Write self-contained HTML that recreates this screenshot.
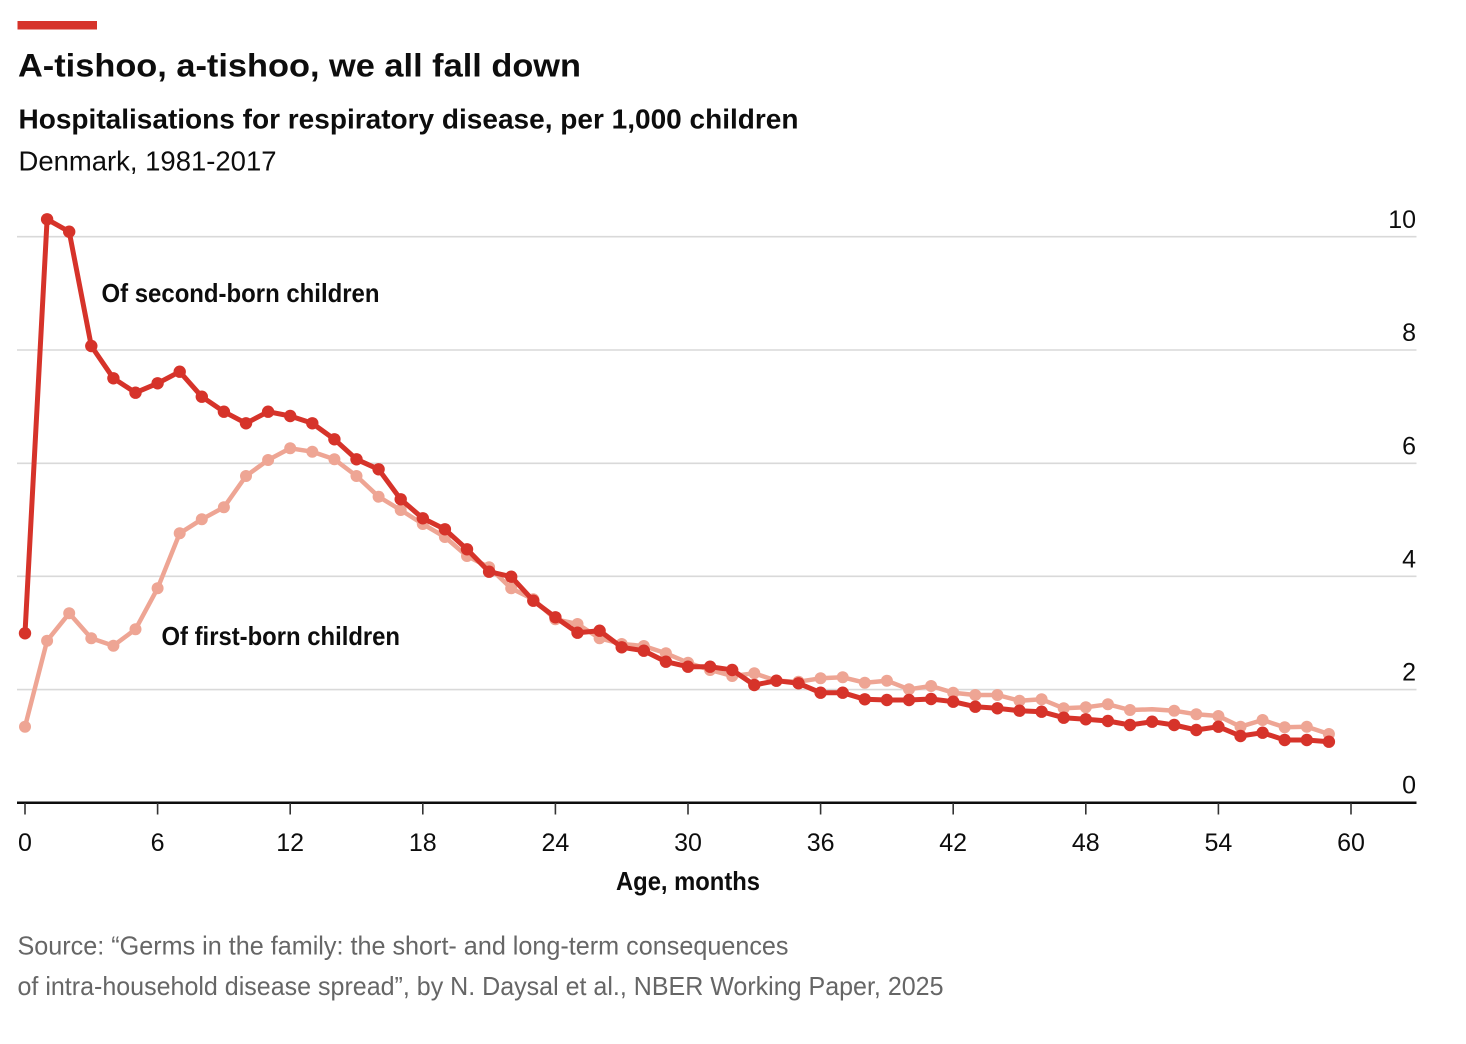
<!DOCTYPE html>
<html>
<head>
<meta charset="utf-8">
<style>
  html, body { margin: 0; padding: 0; background: #ffffff; }
  svg { display: block; }
  text { font-family: "Liberation Sans", "DejaVu Sans", sans-serif; }
</style>
</head>
<body>
<svg width="1466" height="1044" viewBox="0 0 1466 1044" xmlns="http://www.w3.org/2000/svg">
  <rect x="0" y="0" width="1466" height="1044" fill="#ffffff"/>
  <!-- red bar -->
  <rect x="17.5" y="21" width="79.5" height="8.5" fill="#d6332a"/>
  <!-- titles -->
  <text x="18" y="76.5" font-size="32" font-weight="bold" fill="#0d0d0d" textLength="563" lengthAdjust="spacingAndGlyphs">A-tishoo, a-tishoo, we all fall down</text>
  <text x="18.5" y="128.5" font-size="27.5" font-weight="bold" fill="#0d0d0d" textLength="780" lengthAdjust="spacingAndGlyphs">Hospitalisations for respiratory disease, per 1,000 children</text>
  <text x="18.5" y="170.5" font-size="27.5" fill="#0d0d0d" textLength="258" lengthAdjust="spacingAndGlyphs">Denmark, 1981-2017</text>

  <!-- gridlines -->
  <g stroke="#d9d9d9" stroke-width="1.6">
    <line x1="17" y1="236.7" x2="1416.5" y2="236.7"/>
    <line x1="17" y1="350" x2="1416.5" y2="350"/>
    <line x1="17" y1="463.3" x2="1416.5" y2="463.3"/>
    <line x1="17" y1="576.3" x2="1416.5" y2="576.3"/>
    <line x1="17" y1="689.6" x2="1416.5" y2="689.6"/>
  </g>
  <!-- y labels -->
  <g font-size="25" fill="#0d0d0d" text-anchor="end">
    <text x="1416" y="228">10</text>
    <text x="1416" y="341">8</text>
    <text x="1416" y="454.5">6</text>
    <text x="1416" y="567.5">4</text>
    <text x="1416" y="680.5">2</text>
    <text x="1416" y="793.5">0</text>
  </g>

  <!-- axis -->
  <line x1="17" y1="802.8" x2="1416.5" y2="802.8" stroke="#0d0d0d" stroke-width="2.5"/>
  <g stroke="#333" stroke-width="1.6">
    <line x1="25" y1="803" x2="25" y2="814.5"/>
    <line x1="157.6" y1="803" x2="157.6" y2="814.5"/>
    <line x1="290.2" y1="803" x2="290.2" y2="814.5"/>
    <line x1="422.8" y1="803" x2="422.8" y2="814.5"/>
    <line x1="555.4" y1="803" x2="555.4" y2="814.5"/>
    <line x1="688" y1="803" x2="688" y2="814.5"/>
    <line x1="820.6" y1="803" x2="820.6" y2="814.5"/>
    <line x1="953.2" y1="803" x2="953.2" y2="814.5"/>
    <line x1="1085.8" y1="803" x2="1085.8" y2="814.5"/>
    <line x1="1218.4" y1="803" x2="1218.4" y2="814.5"/>
    <line x1="1351" y1="803" x2="1351" y2="814.5"/>
  </g>
  <g font-size="25" fill="#0d0d0d" text-anchor="middle">
    <text x="25" y="851">0</text>
    <text x="157.6" y="851">6</text>
    <text x="290.2" y="851">12</text>
    <text x="422.8" y="851">18</text>
    <text x="555.4" y="851">24</text>
    <text x="688" y="851">30</text>
    <text x="820.6" y="851">36</text>
    <text x="953.2" y="851">42</text>
    <text x="1085.8" y="851">48</text>
    <text x="1218.4" y="851">54</text>
    <text x="1351" y="851">60</text>
  </g>
  <text x="616" y="890" font-size="26" font-weight="bold" fill="#0d0d0d" textLength="144" lengthAdjust="spacingAndGlyphs">Age, months</text>

  <!-- first-born (light) -->
  <polyline fill="none" stroke="#eea594" stroke-width="4.5" stroke-linejoin="round" stroke-linecap="round"
    points="25,726.7 47.1,640.7 69.2,613.3 91.3,638.3 113.4,645.7 135.5,629.3 157.6,588.3 179.7,533.3 201.8,519.3 223.9,507.3 246,476 268.1,460 290.2,448.3 312.3,451.7 334.4,459.3 356.5,476 378.6,496.7 400.7,510 422.8,524 444.9,537 467,556 489.1,567.3 511.2,588.3 533.3,599.3 555.4,619.3 577.5,624 599.6,638.3 621.7,644 643.8,646 665.9,653.3 688,662.7 710.1,670 732.2,676 754.3,673.3 776.4,680.7 798.5,681.7 820.6,678.3 842.7,677.3 864.8,682.7 886.9,680.7 909,689.3 931.1,686 953.2,692.7 975.3,695 997.4,695 1019.5,700.7 1041.6,699.3 1063.7,708.3 1085.8,707.3 1107.9,704.3 1130,710 1152.1,709.3 1174.2,710.7 1196.3,714.3 1218.4,716 1240.5,726.7 1262.6,720 1284.7,727.3 1306.8,726.7 1328.9,734"/>
  <g fill="#eea594">
    <circle cx="25" cy="726.7" r="6"/><circle cx="47.1" cy="640.7" r="6"/><circle cx="69.2" cy="613.3" r="6"/><circle cx="91.3" cy="638.3" r="6"/><circle cx="113.4" cy="645.7" r="6"/><circle cx="135.5" cy="629.3" r="6"/><circle cx="157.6" cy="588.3" r="6"/><circle cx="179.7" cy="533.3" r="6"/><circle cx="201.8" cy="519.3" r="6"/><circle cx="223.9" cy="507.3" r="6"/><circle cx="246" cy="476" r="6"/><circle cx="268.1" cy="460" r="6"/><circle cx="290.2" cy="448.3" r="6"/><circle cx="312.3" cy="451.7" r="6"/><circle cx="334.4" cy="459.3" r="6"/><circle cx="356.5" cy="476" r="6"/><circle cx="378.6" cy="496.7" r="6"/><circle cx="400.7" cy="510" r="6"/><circle cx="422.8" cy="524" r="6"/><circle cx="444.9" cy="537" r="6"/><circle cx="467" cy="556" r="6"/><circle cx="489.1" cy="567.3" r="6"/><circle cx="511.2" cy="588.3" r="6"/><circle cx="533.3" cy="599.3" r="6"/><circle cx="555.4" cy="619.3" r="6"/><circle cx="577.5" cy="624" r="6"/><circle cx="599.6" cy="638.3" r="6"/><circle cx="621.7" cy="644" r="6"/><circle cx="643.8" cy="646" r="6"/><circle cx="665.9" cy="653.3" r="6"/><circle cx="688" cy="662.7" r="6"/><circle cx="710.1" cy="670" r="6"/><circle cx="732.2" cy="676" r="6"/><circle cx="754.3" cy="673.3" r="6"/><circle cx="776.4" cy="680.7" r="6"/><circle cx="798.5" cy="681.7" r="6"/><circle cx="820.6" cy="678.3" r="6"/><circle cx="842.7" cy="677.3" r="6"/><circle cx="864.8" cy="682.7" r="6"/><circle cx="886.9" cy="680.7" r="6"/><circle cx="909" cy="689.3" r="6"/><circle cx="931.1" cy="686" r="6"/><circle cx="953.2" cy="692.7" r="6"/><circle cx="975.3" cy="695" r="6"/><circle cx="997.4" cy="695" r="6"/><circle cx="1019.5" cy="700.7" r="6"/><circle cx="1041.6" cy="699.3" r="6"/><circle cx="1063.7" cy="708.3" r="6"/><circle cx="1085.8" cy="707.3" r="6"/><circle cx="1107.9" cy="704.3" r="6"/><circle cx="1130" cy="710" r="6"/><circle cx="1174.2" cy="710.7" r="6"/><circle cx="1196.3" cy="714.3" r="6"/><circle cx="1218.4" cy="716" r="6"/><circle cx="1240.5" cy="726.7" r="6"/><circle cx="1262.6" cy="720" r="6"/><circle cx="1284.7" cy="727.3" r="6"/><circle cx="1306.8" cy="726.7" r="6"/><circle cx="1328.9" cy="734" r="6"/>
  </g>

  <!-- second-born (dark) -->
  <polyline fill="none" stroke="#d6332a" stroke-width="5" stroke-linejoin="round" stroke-linecap="round"
    points="25,633.3 47.1,219.3 69.2,231.7 91.3,346 113.4,378.3 135.5,392.7 157.6,383.3 179.7,371.7 201.8,396.7 223.9,411.7 246,423.3 268.1,411.7 290.2,416 312.3,423.3 334.4,439.3 356.5,459.3 378.6,469.3 400.7,499.3 422.8,518.3 444.9,529.3 467,549.3 489.1,571.7 511.2,576.7 533.3,600.7 555.4,617.3 577.5,632.7 599.6,630.7 621.7,647.3 643.8,650.7 665.9,661.7 688,666.7 710.1,666.7 732.2,670 754.3,685 776.4,680.7 798.5,683.3 820.6,692.7 842.7,692.7 864.8,699.3 886.9,700 909,700 931.1,699 953.2,701.7 975.3,706.7 997.4,708.3 1019.5,710.7 1041.6,711.7 1063.7,717.7 1085.8,719.3 1107.9,721 1130,725 1152.1,721.7 1174.2,725 1196.3,730 1218.4,726.7 1240.5,736 1262.6,732.7 1284.7,740 1306.8,740 1328.9,741.7"/>
  <g fill="#d6332a">
    <circle cx="25" cy="633.3" r="6.2"/><circle cx="47.1" cy="219.3" r="6.2"/><circle cx="69.2" cy="231.7" r="6.2"/><circle cx="91.3" cy="346" r="6.2"/><circle cx="113.4" cy="378.3" r="6.2"/><circle cx="135.5" cy="392.7" r="6.2"/><circle cx="157.6" cy="383.3" r="6.2"/><circle cx="179.7" cy="371.7" r="6.2"/><circle cx="201.8" cy="396.7" r="6.2"/><circle cx="223.9" cy="411.7" r="6.2"/><circle cx="246" cy="423.3" r="6.2"/><circle cx="268.1" cy="411.7" r="6.2"/><circle cx="290.2" cy="416" r="6.2"/><circle cx="312.3" cy="423.3" r="6.2"/><circle cx="334.4" cy="439.3" r="6.2"/><circle cx="356.5" cy="459.3" r="6.2"/><circle cx="378.6" cy="469.3" r="6.2"/><circle cx="400.7" cy="499.3" r="6.2"/><circle cx="422.8" cy="518.3" r="6.2"/><circle cx="444.9" cy="529.3" r="6.2"/><circle cx="467" cy="549.3" r="6.2"/><circle cx="489.1" cy="571.7" r="6.2"/><circle cx="511.2" cy="576.7" r="6.2"/><circle cx="533.3" cy="600.7" r="6.2"/><circle cx="555.4" cy="617.3" r="6.2"/><circle cx="577.5" cy="632.7" r="6.2"/><circle cx="599.6" cy="630.7" r="6.2"/><circle cx="621.7" cy="647.3" r="6.2"/><circle cx="643.8" cy="650.7" r="6.2"/><circle cx="665.9" cy="661.7" r="6.2"/><circle cx="688" cy="666.7" r="6.2"/><circle cx="710.1" cy="666.7" r="6.2"/><circle cx="732.2" cy="670" r="6.2"/><circle cx="754.3" cy="685" r="6.2"/><circle cx="776.4" cy="680.7" r="6.2"/><circle cx="798.5" cy="683.3" r="6.2"/><circle cx="820.6" cy="692.7" r="6.2"/><circle cx="842.7" cy="692.7" r="6.2"/><circle cx="864.8" cy="699.3" r="6.2"/><circle cx="886.9" cy="700" r="6.2"/><circle cx="909" cy="700" r="6.2"/><circle cx="931.1" cy="699" r="6.2"/><circle cx="953.2" cy="701.7" r="6.2"/><circle cx="975.3" cy="706.7" r="6.2"/><circle cx="997.4" cy="708.3" r="6.2"/><circle cx="1019.5" cy="710.7" r="6.2"/><circle cx="1041.6" cy="711.7" r="6.2"/><circle cx="1063.7" cy="717.7" r="6.2"/><circle cx="1085.8" cy="719.3" r="6.2"/><circle cx="1107.9" cy="721" r="6.2"/><circle cx="1130" cy="725" r="6.2"/><circle cx="1152.1" cy="721.7" r="6.2"/><circle cx="1174.2" cy="725" r="6.2"/><circle cx="1196.3" cy="730" r="6.2"/><circle cx="1218.4" cy="726.7" r="6.2"/><circle cx="1240.5" cy="736" r="6.2"/><circle cx="1262.6" cy="732.7" r="6.2"/><circle cx="1284.7" cy="740" r="6.2"/><circle cx="1306.8" cy="740" r="6.2"/><circle cx="1328.9" cy="741.7" r="6.2"/>
  </g>

  <!-- series labels -->
  <text x="101.5" y="302" font-size="26" font-weight="bold" fill="#0d0d0d" textLength="278" lengthAdjust="spacingAndGlyphs">Of second-born children</text>
  <text x="161.5" y="645" font-size="26" font-weight="bold" fill="#0d0d0d" textLength="238.5" lengthAdjust="spacingAndGlyphs">Of first-born children</text>

  <!-- source -->
  <text x="17.5" y="954.5" font-size="26" fill="#666666" textLength="771" lengthAdjust="spacingAndGlyphs">Source: “Germs in the family: the short- and long-term consequences</text>
  <text x="17.5" y="995" font-size="26" fill="#666666" textLength="926" lengthAdjust="spacingAndGlyphs">of intra-household disease spread”, by N. Daysal et al., NBER Working Paper, 2025</text>
</svg>
</body>
</html>
